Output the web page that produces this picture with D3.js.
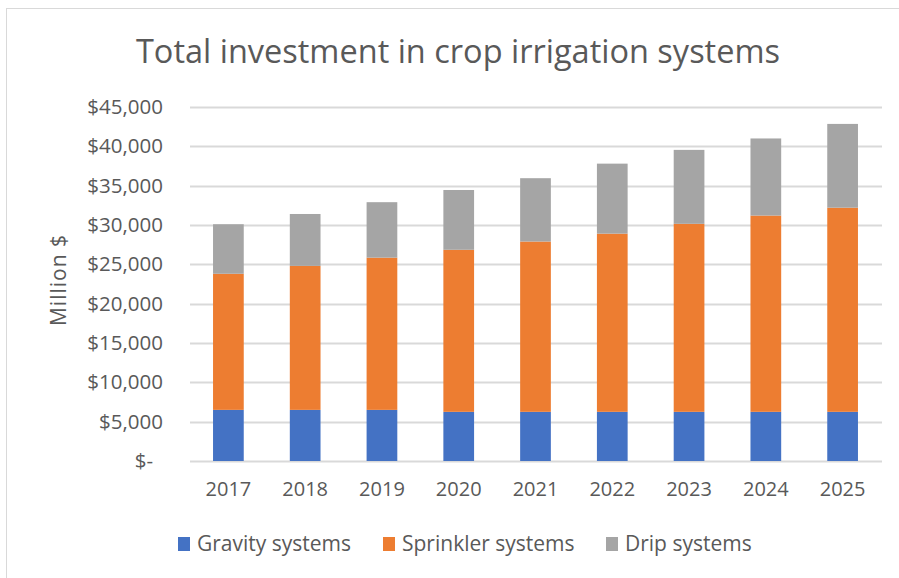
<!DOCTYPE html>
<meta charset="utf-8">
<style>
  body {
    margin: 0;
    background: #fff;
  }

  text {
    font-family: "Open Sans", "Lato", sans-serif;
    fill: #595959;
  }

  .grid line {
    stroke: #d9d9d9;
  }
</style>

<body>
  <div id="chart"></div>

  <script src="https://d3js.org/d3.v7.min.js"></script>
  <script>
    // data (million $)
    var years = ["2017", "2018", "2019", "2020", "2021", "2022", "2023", "2024", "2025"];
    var gravity = [6500, 6500, 6500, 6250, 6250, 6250, 6250, 6250, 6250];
    var sprinkler = [17300, 18300, 19350, 20600, 21650, 22650, 23900, 24950, 25950];
    var drip = [6300, 6600, 7050, 7600, 8050, 8900, 9400, 9800, 10650];
    var seriesNames = ["Gravity systems", "Sprinkler systems", "Drip systems"];
    var yTicks = [0, 5000, 10000, 15000, 20000, 25000, 30000, 35000, 40000, 45000];

    var colors = ["#4472c4", "#ed7d31", "#a5a5a5"];

    // set the dimensions and margins of the graph
    var margin = {
        top: 107,
        right: 16,
        bottom: 117,
        left: 190
      },
      fullWidth = 899,
      fullHeight = 578,
      width = fullWidth - margin.left - margin.right,
      height = fullHeight - margin.top - margin.bottom;

    var rows = years.map(function(y, i) {
      return {
        year: y,
        gravity: gravity[i],
        sprinkler: sprinkler[i],
        drip: drip[i]
      };
    });

    var stack = d3.stack().keys(["gravity", "sprinkler", "drip"]);
    var layers = stack(rows);

    var x = d3.scaleBand()
      .domain(years)
      .range([0, width - 2])
      .paddingInner(0.6)
      .paddingOuter(0.3);

    var y = d3.scaleLinear()
      .domain([0, 45000])
      .range([height, 0]);

    var svg = d3.select("#chart")
      .append("svg")
      .attr("width", fullWidth)
      .attr("height", fullHeight);

    // chart area frame
    svg.append("rect")
      .attr("x", 6.5)
      .attr("y", 8.5)
      .attr("width", 1000)
      .attr("height", 1000)
      .attr("fill", "#fff")
      .attr("stroke", "#d9d9d9");

    svg.append("text")
      .attr("x", 458)
      .attr("y", 63)
      .attr("text-anchor", "middle")
      .style("font-size", "32.5px")
      .text("Total investment in crop irrigation systems");

    var g = svg.append("g")
      .attr("transform", "translate(" + margin.left + "," + margin.top + ")");

    // gridlines
    g.append("g")
      .attr("class", "grid")
      .selectAll("line")
      .data(yTicks)
      .enter().append("line")
      .attr("x1", 0)
      .attr("x2", width - 1)
      .attr("y1", function(d) { return Math.round(y(d)) + 0.5; })
      .attr("y2", function(d) { return Math.round(y(d)) + 0.5; })
      .attr("stroke-width", 2);

    // y axis labels
    var fmt = d3.format(",");
    var yAxis = d3.axisLeft(y)
      .tickValues(yTicks)
      .tickSize(0)
      .tickPadding(27)
      .tickFormat(function(d) {
        return d === 0 ? "$-" : "$" + fmt(d);
      });

    var ya = g.append("g").call(yAxis);
    ya.select(".domain").remove();
    ya.selectAll("text")
      .style("font-size", "20.5px")
      .attr("fill", "#595959")
      .attr("dx", function(d) { return d === 0 ? -10 : 0; });

    // bars
    g.selectAll(".layer")
      .data(layers)
      .enter().append("g")
      .attr("class", "layer")
      .attr("fill", function(d, i) { return colors[i]; })
      .selectAll("rect")
      .data(function(d) { return d; })
      .enter().append("rect")
      .attr("x", function(d) { return x(d.data.year); })
      .attr("y", function(d) { return y(d[1]); })
      .attr("height", function(d) { return y(d[0]) - y(d[1]); })
      .attr("width", x.bandwidth());

    // x axis
    var xAxis = d3.axisBottom(x)
      .tickSize(0)
      .tickPadding(21);

    var xa = g.append("g")
      .attr("transform", "translate(0," + height + ")")
      .call(xAxis);
    xa.select(".domain").remove();
    xa.selectAll("text")
      .style("font-size", "20px")
      .attr("fill", "#595959");

    // y axis title
    svg.append("text")
      .attr("transform", "translate(66,280) rotate(-90)")
      .attr("text-anchor", "middle")
      .style("font-size", "21px")
      .style("letter-spacing", "1px")
      .text("Million $");

    // legend
    var legendX = [178, 383, 606];
    var legend = svg.selectAll(".legend")
      .data(seriesNames)
      .enter().append("g")
      .attr("class", "legend")
      .attr("transform", function(d, i) { return "translate(" + legendX[i] + ",537)"; });

    legend.append("rect")
      .attr("width", 12)
      .attr("height", 14)
      .attr("fill", function(d, i) { return colors[i]; });

    legend.append("text")
      .attr("x", 19)
      .attr("y", 14)
      .style("font-size", "21px")
      .text(function(d) { return d; });
  </script>
</body>
